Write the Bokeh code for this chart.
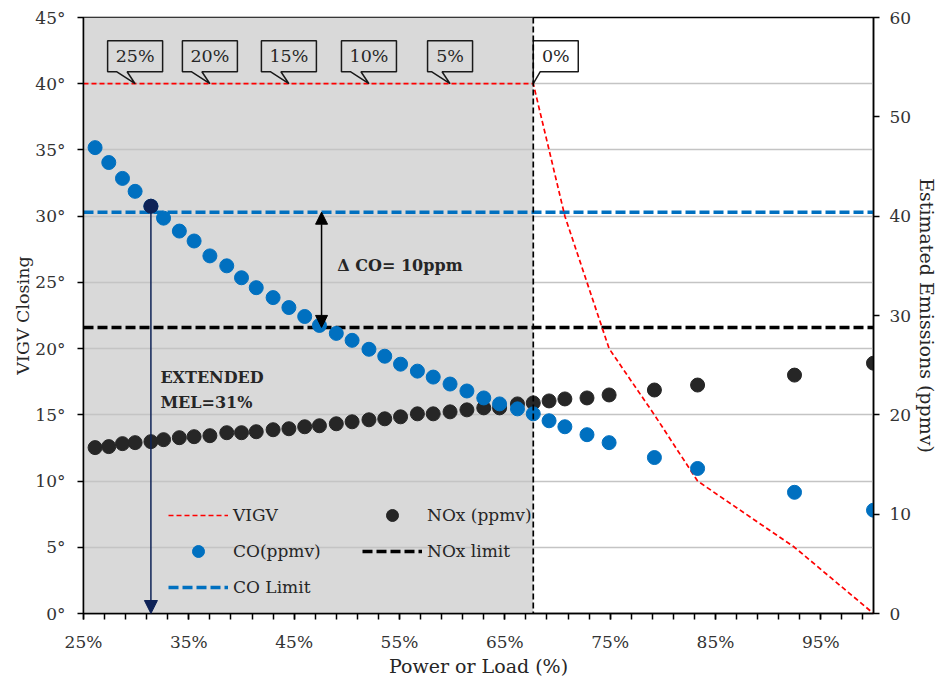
import numpy as np
from bokeh.plotting import figure
from bokeh.models import (Range1d, LinearAxis, FixedTicker, PrintfTickFormatter,
                          BoxAnnotation, Span, Arrow, NormalHead, Label, Legend,
                          LegendItem, Title)
from bokeh.core.properties import value
from bokeh.embed import file_html
from bokeh.resources import INLINE

# ---------------- data ----------------
power = [26.1, 27.4, 28.7, 29.9, 31.4, 32.6, 34.1, 35.5, 37.0, 38.6,
         40.0, 41.4, 43.0, 44.5, 46.0, 47.4, 49.0, 50.5, 52.1, 53.6,
         55.1, 56.7, 58.2, 59.8, 61.4, 63.0, 64.5, 66.2, 67.7, 69.2,
         70.7, 72.8, 74.9, 79.2, 83.3, 92.5, 100.0]
co_ppmv = [46.9, 45.4, 43.8, 42.5, 41.0, 39.8, 38.5, 37.5, 36.0, 35.0,
           33.8, 32.8, 31.8, 30.8, 29.9, 29.0, 28.2, 27.5, 26.6, 25.9,
           25.1, 24.4, 23.8, 23.1, 22.4, 21.7, 21.1, 20.6, 20.1, 19.4,
           18.8, 18.0, 17.2, 15.7, 14.6, 12.2, 10.4]
nox_ppmv = [16.7, 16.8, 17.1, 17.2, 17.3, 17.5, 17.7, 17.8, 17.9, 18.2,
            18.2, 18.3, 18.5, 18.6, 18.8, 18.9, 19.1, 19.3, 19.5, 19.6,
            19.8, 20.1, 20.1, 20.3, 20.5, 20.7, 20.7, 21.1, 21.2, 21.4,
            21.6, 21.7, 22.0, 22.5, 23.0, 24.0, 25.2]
vigv_power = [25.0, 67.7, 69.2, 70.7, 72.8, 74.9, 79.2, 83.3, 92.5, 100.0]
vigv_deg = [40, 40, 35, 30, 25, 20, 15, 10, 5, 0]
co_limit = 40.4
nox_limit = 28.8
mel_current = 67.7
mel_index = 4            # extended MEL point (31%)
callout_labels = ["25%", "20%", "15%", "10%", "5%", "0%"]
callout_index = [3, 8, 13, 18, 23, 28]
delta_co_power = 47.6
x_major = [25, 35, 45, 55, 65, 75, 85, 95]
x_minor = list(range(25, 100, 2))
y_left_ticks = [0, 5, 10, 15, 20, 25, 30, 35, 40, 45]
y_right_ticks = [0, 10, 20, 30, 40, 50, 60]
x_lo, x_hi = 25, 100
yl_lo, yl_hi = 0, 45
yr_lo, yr_hi = 0, 60

# ---------------- styling ----------------
FONT = "DejaVu Serif"
TXT = "#262626"
BLUE = "#0070C0"
DARK = "#262626"
NAVY = "#0F2357"
RED = "#FF0000"
SHADE = "#D9D9D9"

W, H = 943, 681
BL, BR, BT, BB = 83, 70, 17, 68
FW, FH = W - BL - BR, H - BT - BB
sx = (x_hi - x_lo) / FW      # data units per pixel (x)
sy = (yl_hi - yl_lo) / FH    # data units per pixel (left y)

p = figure(width=W, height=H, x_range=Range1d(x_lo, x_hi), y_range=Range1d(yl_lo, yl_hi),
           output_backend="svg", toolbar_location=None,
           min_border_left=BL, min_border_right=BR, min_border_top=BT, min_border_bottom=BB)
p.extra_y_ranges = {"ppm": Range1d(yr_lo, yr_hi)}
p.background_fill_color = "white"
p.border_fill_color = "white"
p.outline_line_color = "black"
p.outline_line_width = 1.5

# axes
xa = p.xaxis[0]
xa.ticker = FixedTicker(ticks=x_major, minor_ticks=x_minor)
xa.formatter = PrintfTickFormatter(format="%d%%")
ya = p.yaxis[0]
ya.ticker = FixedTicker(ticks=y_left_ticks)
ya.formatter = PrintfTickFormatter(format="%d°")
ra = LinearAxis(y_range_name="ppm", ticker=FixedTicker(ticks=y_right_ticks))
p.add_layout(ra, "right")
for ax in (xa, ya, ra):
    ax.axis_line_color = "black"
    ax.axis_line_width = 1.5
    ax.major_tick_line_color = "black"
    ax.major_tick_line_width = 1.5
    ax.major_tick_in = 0
    ax.major_tick_out = 6
    ax.major_label_text_font = FONT
    ax.major_label_text_font_size = "17px"
    ax.major_label_text_color = "#333333"
    ax.major_label_standoff = 12
    ax.axis_label_text_font = FONT
    ax.axis_label_text_font_size = "19px"
    ax.axis_label_text_font_style = "normal"
    ax.axis_label_text_color = TXT
ya.minor_tick_line_color = None
ra.minor_tick_line_color = None
xa.minor_tick_line_color = "black"
xa.minor_tick_line_width = 1.5
xa.minor_tick_in = 0
xa.minor_tick_out = 6
xa.major_label_standoff = 12
xa.axis_label = "Power or Load (%)"
xa.axis_label_standoff = 0
ra.major_label_standoff = 10
ra.axis_label = "Estimated Emissions (ppmv)"
ra.axis_label_standoff = 2

# left axis title (sits a little above the frame centre in the original)
p.add_layout(Title(text="VIGV Closing", align="center", offset=-30, standoff=0,
                   text_font=FONT, text_font_size="17.5px", text_font_style="normal",
                   text_color=TXT), "left")

p.xgrid.visible = False
p.ygrid.ticker = ya.ticker
p.ygrid.grid_line_color = "#C4C4C4"
p.ygrid.grid_line_width = 1.5

# shaded current operating range (drawn under the grid)
shade = BoxAnnotation(right=mel_current, fill_color=SHADE, fill_alpha=1.0,
                      line_alpha=0, level="underlay")
p.center = [shade] + list(p.center)

# limit lines
co_lim_r = p.line([x_lo, x_hi], [co_limit, co_limit], y_range_name="ppm",
                  line_color=BLUE, line_width=3.5, line_dash="10 4")
nox_lim_r = p.line([x_lo, x_hi], [nox_limit, nox_limit], y_range_name="ppm",
                   line_color="black", line_width=3.5, line_dash="10 4")

# VIGV line
vigv_r = p.line(vigv_power, vigv_deg, line_color=RED, line_width=1.7, line_dash="5 3")

# scatter series
nox_r = p.scatter(power, nox_ppmv, y_range_name="ppm", size=14, color=DARK)
co_r = p.scatter(power, co_ppmv, y_range_name="ppm", size=14, color=BLUE)
p.scatter([power[mel_index]], [co_ppmv[mel_index]], y_range_name="ppm", size=14, color=NAVY)

# current MEL vertical dashed line
p.add_layout(Span(location=mel_current, dimension="height", line_color="black",
                  line_width=1.7, line_dash="6 3"))

# extended MEL arrow
p.add_layout(Arrow(x_start=power[mel_index], y_start=co_ppmv[mel_index],
                   x_end=power[mel_index], y_end=yr_lo, y_range_name="ppm",
                   line_color=NAVY, line_width=1.5,
                   end=NormalHead(size=13, fill_color=NAVY, line_color=NAVY)))
# delta CO double arrow
p.add_layout(Arrow(x_start=delta_co_power, y_start=nox_limit, x_end=delta_co_power,
                   y_end=co_limit, y_range_name="ppm", line_color="black", line_width=1.5,
                   start=NormalHead(size=12, fill_color="black", line_color="black"),
                   end=NormalHead(size=12, fill_color="black", line_color="black")))

# callouts (speech bubbles) pointing at the VIGV line
tip_y = vigv_deg[0]
bot = tip_y + 12 * sy
top = tip_y + 43 * sy
xs, ys, tx, ty = [], [], [], []
for lab, idx in zip(callout_labels, callout_index):
    t = power[idx]
    if lab == "0%":
        w = 45
        xs.append([t, t + 7 * sx, t + w * sx, t + w * sx, t, t])
        ys.append([tip_y, bot, bot, top, top, tip_y])
        tx.append(t + w / 2 * sx)
    else:
        w = 45 if len(lab) == 2 else 55
        xs.append([t, t - 8 * sx, t + w / 2 * sx, t + w / 2 * sx, t - w / 2 * sx,
                   t - w / 2 * sx, t - 18.6 * sx, t])
        ys.append([tip_y, bot, bot, top, top, bot, bot, tip_y])
        tx.append(t)
    ty.append((bot + top) / 2)
p.patches(xs, ys, fill_alpha=0, line_color="#1A1A1A", line_width=1.5)
p.text(tx, ty, text=callout_labels, text_font=value(FONT), text_font_size="17.5px",
       text_align="center", text_baseline="middle", text_color=TXT)

# annotations
p.add_layout(Label(x=delta_co_power + 1.5, y=26.3, text="Δ CO= 10ppm", text_font=FONT,
                   text_font_size="16px", text_font_style="bold", text_color=TXT,
                   text_baseline="middle"))
p.add_layout(Label(x=power[mel_index] + 0.9, y=17.8, text="EXTENDED", text_font=FONT,
                   text_font_size="16px", text_font_style="bold", text_color=TXT,
                   text_baseline="middle"))
p.add_layout(Label(x=power[mel_index] + 0.9, y=15.9, text="MEL=31%", text_font=FONT,
                   text_font_size="16px", text_font_style="bold", text_color=TXT,
                   text_baseline="middle"))

# legend
legend = Legend(items=[
    LegendItem(label="VIGV", renderers=[vigv_r]),
    LegendItem(label="CO(ppmv)", renderers=[co_r]),
    LegendItem(label="CO Limit", renderers=[co_lim_r]),
    LegendItem(label="NOx (ppmv)", renderers=[nox_r]),
    LegendItem(label="NOx limit", renderers=[nox_lim_r]),
], location=(85, 11), orientation="vertical", nrows=3,
    glyph_width=60, glyph_height=30, spacing=6, padding=0, margin=0,
    label_standoff=5, label_width=123, label_text_font=FONT,
    label_text_font_size="17px", label_text_color=TXT,
    background_fill_alpha=0, border_line_alpha=0)
p.add_layout(legend, "center")

open("out.html", "w").write(file_html(p, INLINE))
